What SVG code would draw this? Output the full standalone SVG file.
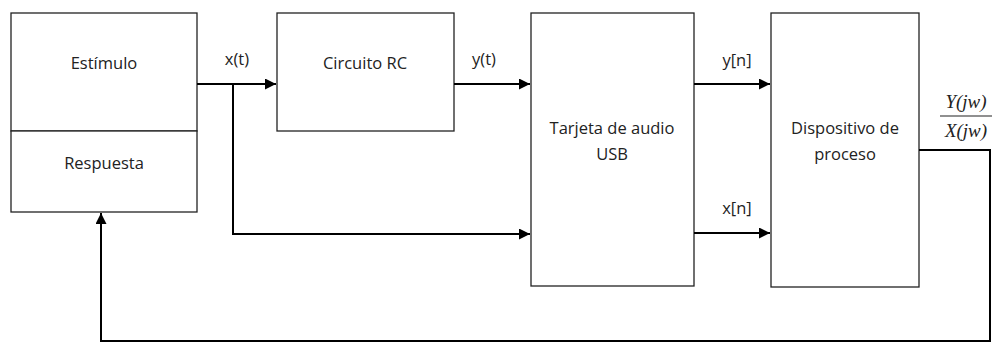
<svg xmlns="http://www.w3.org/2000/svg" width="993" height="343" viewBox="0 0 993 343">
<defs>
<marker id="ah" viewBox="0 0 10 10" refX="10" refY="5" markerWidth="5.5" markerHeight="5.5" orient="auto" markerUnits="strokeWidth"><path d="M0,0 L10,5 L0,10 z" fill="#000"/></marker>
<style>
.box{fill:#fff;stroke:#222;stroke-width:1.3}
.t{font-family:"Open Sans","Liberation Sans",sans-serif;font-size:16.5px;fill:#222;text-anchor:middle}
.m{font-family:"Liberation Serif",serif;font-style:italic;font-size:19px;fill:#222;text-anchor:middle}
.c{fill:none;stroke:#000;stroke-width:2}
</style>
</defs>
<rect width="993" height="343" fill="#fff"/>
<g id="estimulo"><rect class="box" x="11" y="13" width="186" height="118"/><text class="t" x="104" y="69">Estímulo</text></g>
<g id="respuesta"><rect class="box" x="11" y="131" width="186" height="81"/><text class="t" x="104" y="169">Respuesta</text></g>
<g id="rc"><rect class="box" x="277" y="13" width="177" height="118"/><text class="t" x="365" y="69">Circuito RC</text></g>
<g id="tarjeta"><rect class="box" x="531" y="13" width="163" height="273"/><text class="t" x="612" y="134">Tarjeta de audio</text><text class="t" x="612" y="160">USB</text></g>
<g id="dispositivo"><rect class="box" x="771" y="13" width="148" height="274"/><text class="t" x="845" y="134">Dispositivo de</text><text class="t" x="845" y="160">proceso</text></g>
<g id="connectors">
<path class="c" d="M197,84 H276" marker-end="url(#ah)"/>
<path class="c" d="M233,84 V234 H530" marker-end="url(#ah)"/>
<path class="c" d="M454,84 H530" marker-end="url(#ah)"/>
<path class="c" d="M694,84 H770" marker-end="url(#ah)"/>
<path class="c" d="M694,233 H770" marker-end="url(#ah)"/>
<path class="c" d="M919,150 H990 V341 H101 V213" marker-end="url(#ah)"/>
</g>
<g id="labels">
<text class="t" x="237" y="65">x(t)</text>
<text class="t" x="484" y="65">y(t)</text>
<text class="t" x="737" y="66">y[n]</text>
<text class="t" x="737" y="214">x[n]</text>
<text class="m" x="966" y="108">Y(jw)</text>
<line x1="940" y1="116" x2="992" y2="116" stroke="#222" stroke-width="1.2"/>
<text class="m" x="966" y="137">X(jw)</text>
</g>
</svg>
